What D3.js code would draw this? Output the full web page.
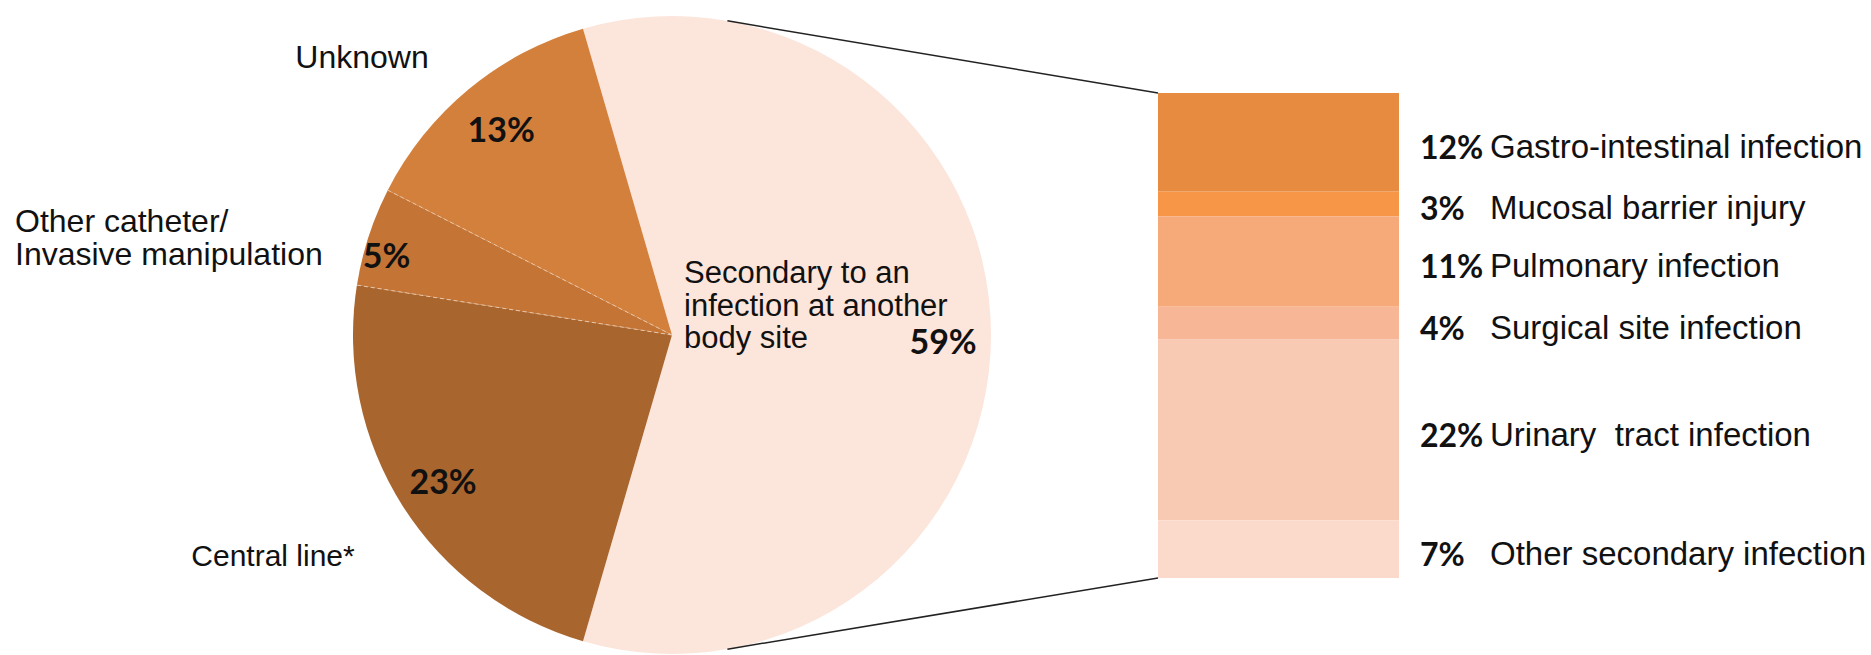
<!DOCTYPE html>
<html>
<head>
<meta charset="utf-8">
<script src="https://cdn.jsdelivr.net/npm/d3@7"></script>
<style>
  html, body { margin: 0; padding: 0; background: #ffffff; }
  svg { display: block; }
</style>
</head>
<body>
<svg id="chart" width="1871" height="655"></svg>
<script>
// Main pie: source of bloodstream infection (%)
const pieCategories = ["Secondary to an infection at another body site", "Central line*", "Other catheter/ Invasive manipulation", "Unknown"];
const pieValues = [59, 23, 5, 13];
const pieColors = ["#FCE5DB", "#A9652E", "#C47535", "#D4803D"];

// Breakdown bar: secondary infection sites (%)
const barCategories = ["Gastro-intestinal infection", "Mucosal barrier injury", "Pulmonary infection", "Surgical site infection", "Urinary  tract infection", "Other secondary infection"];
const barValues = [12, 3, 11, 4, 22, 7];
const barColors = ["#E78B41", "#F79646", "#F6A979", "#F7B797", "#F8CAB4", "#FBDACC"];

const svg = d3.select("#chart");

const cx = 672, cy = 335, R = 319;
const labelFont = "'Liberation Sans', Arial, sans-serif";
const pctFont = "Lato, 'Open Sans', sans-serif";

// Split slice (first) is centred on the right-hand side, as a bar-of-pie layout
const total = d3.sum(pieValues);
const splitSpan = pieValues[0] / total * 2 * Math.PI;
const startAngle = Math.PI / 2 - splitSpan / 2;

const pie = d3.pie().sort(null).value(d => d)
  .startAngle(startAngle).endAngle(startAngle + 2 * Math.PI);
const arcs = pie(pieValues);
const arc = d3.arc().innerRadius(0).outerRadius(R);

const gPie = svg.append("g").attr("transform", `translate(${cx},${cy})`);

gPie.selectAll("path.slice")
  .data(arcs)
  .join("path")
  .attr("class", "slice")
  .attr("d", arc)
  .attr("fill", (d, i) => pieColors[i]);

// Thin light dividers around the narrow slice
[arcs[2].startAngle, arcs[2].endAngle].forEach(a => {
  gPie.append("line")
    .attr("x1", 0).attr("y1", 0)
    .attr("x2", R * Math.sin(a)).attr("y2", -R * Math.cos(a))
    .attr("stroke", "#e9c6a8").attr("stroke-width", 1)
    .attr("stroke-dasharray", "4,3");
});

// Percent labels inside the pie
const pctRadius = [0.85, 0.85, 0.93, 0.84];
const pctTurn = [1.2, 0, -2.2, 0].map(v => v * Math.PI / 180);
const mid = (d, i) => (d.startAngle + d.endAngle) / 2 + pctTurn[i];
gPie.selectAll("text.pct")
  .data(arcs)
  .join("text")
  .attr("class", "pct")
  .attr("x", (d, i) => R * pctRadius[i] * Math.sin(mid(d, i)))
  .attr("y", (d, i) => -R * pctRadius[i] * Math.cos(mid(d, i)))
  .attr("text-anchor", "middle")
  .attr("dominant-baseline", "central")
  .attr("font-family", pctFont)
  .attr("font-weight", "bold")
  .attr("font-size", 34)
  .attr("fill", "#111")
  .text((d, i) => pieValues[i] + "%");

// Category labels of the pie
const secLines = ["Secondary to an", "infection at another", "body site"];
const secLabel = svg.append("text")
  .attr("font-family", labelFont).attr("font-size", 31).attr("fill", "#111");
secLines.forEach((t, i) => {
  secLabel.append("tspan").attr("x", 684).attr("y", 283 + i * 32.5).text(t);
});

const outer = [
  { lines: ["Unknown"], x: 362, y: 68, size: 32, anchor: "middle" },
  { lines: ["Other catheter/", "Invasive manipulation"], x: 15, y: 232, size: 32, anchor: "start" },
  { lines: ["Central line*"], x: 273, y: 566, size: 30, anchor: "middle" }
];
outer.forEach(o => {
  const t = svg.append("text")
    .attr("font-family", labelFont).attr("font-size", o.size).attr("fill", "#111")
    .attr("text-anchor", o.anchor);
  o.lines.forEach((s, k) => t.append("tspan").attr("x", o.x).attr("y", o.y + k * 33).text(s));
});

// Breakdown bar
const barX = 1158, barW = 241, barTop = 93, barBottom = 578;
const y = d3.scaleLinear().domain([0, d3.sum(barValues)]).range([barTop, barBottom]);
const cum = barValues.map((v, i) => d3.sum(barValues.slice(0, i)));

// Connector lines from the split slice to the bar
const a1 = Math.PI / 2 - 80 * Math.PI / 180, a2 = Math.PI / 2 + 80 * Math.PI / 180;
[[a1, barTop], [a2, barBottom]].forEach(([a, yy]) => {
  svg.append("line")
    .attr("x1", cx + R * Math.sin(a)).attr("y1", cy - R * Math.cos(a))
    .attr("x2", barX).attr("y2", yy)
    .attr("stroke", "#222").attr("stroke-width", 1.5);
});

svg.append("g").selectAll("rect")
  .data(barValues)
  .join("rect")
  .attr("x", barX)
  .attr("width", barW)
  .attr("y", (d, i) => y(cum[i]))
  .attr("height", d => y(d) - y(0))
  .attr("fill", (d, i) => barColors[i]);

const gBarLab = svg.append("g");
barValues.forEach((v, i) => {
  const ym = y(cum[i] + v / 2) + 4;
  gBarLab.append("text")
    .attr("x", 1420).attr("y", ym)
    .attr("dominant-baseline", "central")
    .attr("font-family", pctFont).attr("font-weight", "bold").attr("font-size", 32)
    .attr("fill", "#111")
    .text(v + "%");
  gBarLab.append("text")
    .attr("x", 1490).attr("y", ym)
    .attr("dominant-baseline", "central")
    .attr("font-family", labelFont).attr("font-size", 33)
    .attr("fill", "#111")
    .style("white-space", "pre")
    .text(barCategories[i]);
});
</script>
</body>
</html>
